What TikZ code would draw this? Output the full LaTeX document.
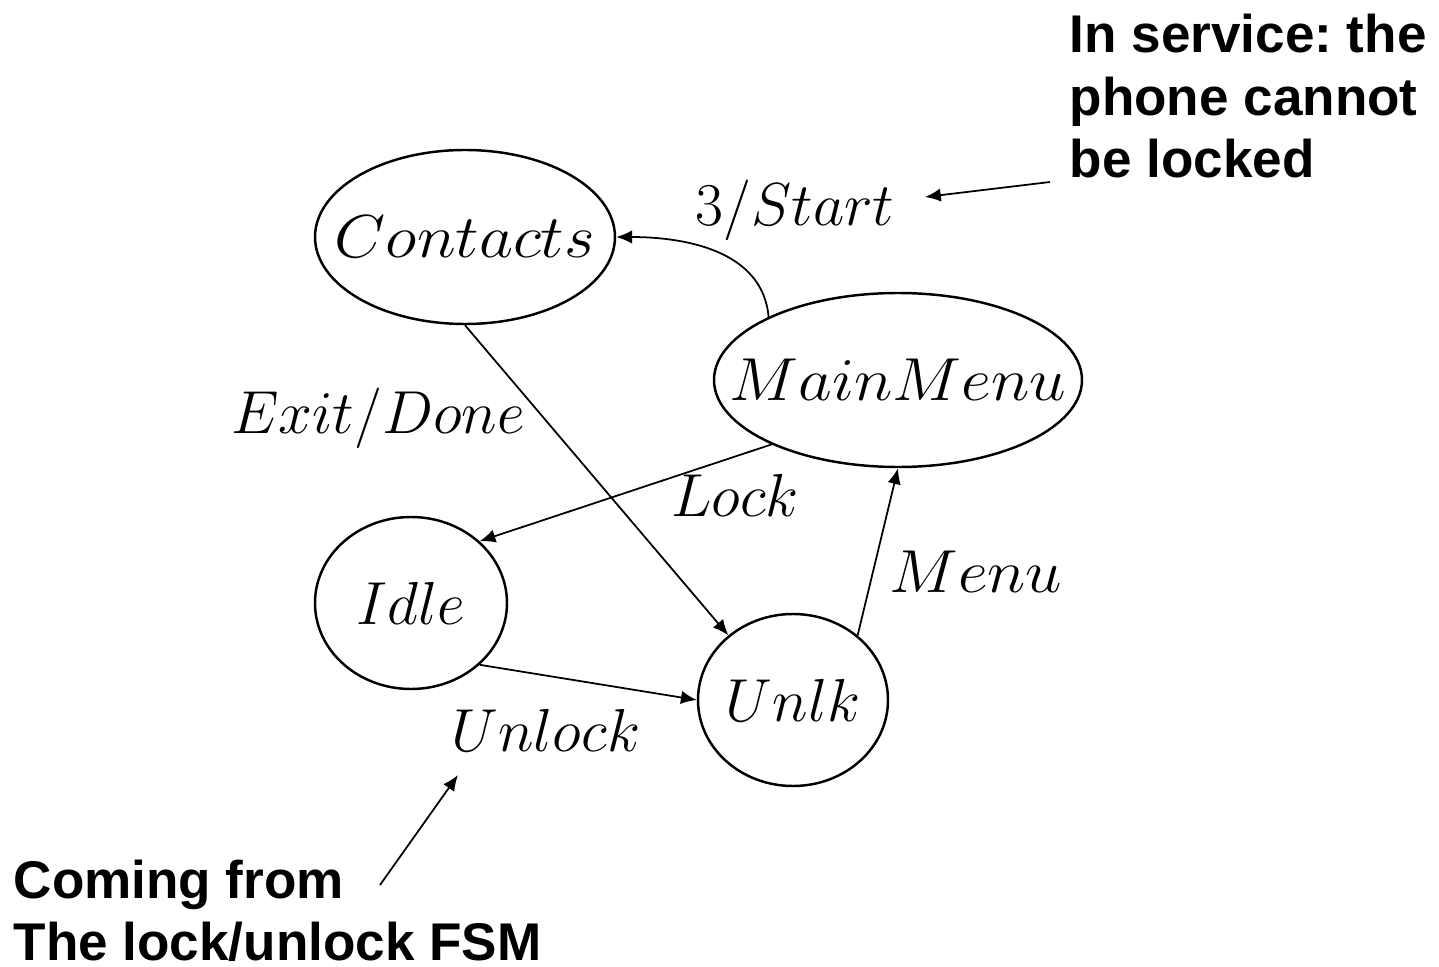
\documentclass[tikz,border=0pt]{standalone}
\usepackage{graphicx}
\usepackage{fontspec}
\newfontfamily\notefont{Liberation Sans}
\usetikzlibrary{shapes.geometric,arrows.meta}
\tikzset{
  state/.style={ellipse,draw,line width=0.7pt,inner sep=0pt},
  every label/.style={font=\fontsize{18.4}{22}\selectfont,inner sep=0pt},
  lbl/.style={font=\fontsize{18.4}{22}\selectfont,inner sep=0pt},
  trans/.style={-{Latex[length=4.5pt,width=3.8pt]},line width=0.5pt},
  note/.style={font=\notefont\bfseries\fontsize{15.1}{17.8}\selectfont,align=left,inner sep=0pt,anchor=north west}
}
\frenchspacing
\begin{document}
\begin{tikzpicture}
    \useasboundingbox (0,0) rectangle (14.39,-9.67);

    \node[state,minimum width=3.0cm,minimum height=1.74cm,label={center:\scalebox{1.09}[1]{$Contacts$}}] (contacts) at (4.65,-2.37) {};
    \node[state,minimum width=3.68cm,minimum height=1.74cm,label={center:\scalebox{1.08}[1]{$MainMenu$}}] (mainmenu) at (8.98,-3.80) {};
    \node[state,minimum width=1.92cm,minimum height=1.72cm,label=center:$Idle$] (idle) at (4.11,-6.03) {};
    \node[state,minimum width=1.90cm,minimum height=1.72cm,label=center:$Unlk$] (unlk) at (7.93,-7.00) {};

    \node[lbl] (startlbl) at (7.95,-2.10) {$3/Start$};
    \node[lbl] (exitlbl) at (3.78,-4.18) {$Exit/Done$};
    \node[lbl] (locklbl) at (7.35,-4.95) {$Lock$};
    \node[lbl] (menulbl) at (9.76,-5.72) {\scalebox{1.075}[1]{$Menu$}};
    \node[lbl] (unlocklbl) at (5.46,-7.30) {$Unlock$};

    \draw[trans] (mainmenu.154) to[out=95,in=0] (contacts.east);
    \draw[trans] (contacts.south) -- (unlk.135);
    \draw[trans] (mainmenu.207) -- (idle.42);
    \draw[trans] (idle.-42) -- (unlk.west);
    \draw[trans] (unlk.45) -- (mainmenu.south);

    \node[note] (servicenote) at (10.69,-0.135) {In service: the\\phone cannot\\be locked};
    \node[note] (comingnote) at (0.13,-8.59) {Coming from\\The lock/unlock FSM};

    \coordinate (servicetail) at (10.50,-1.82);
    \coordinate (servicehead) at (9.25,-1.97);
    \coordinate (comingtail) at (3.80,-8.85);
    \coordinate (cominghead) at (4.58,-7.75);
    \draw[trans] (servicetail) -- (servicehead);
    \draw[trans] (comingtail) -- (cominghead);
  \end{tikzpicture}
\end{document}
